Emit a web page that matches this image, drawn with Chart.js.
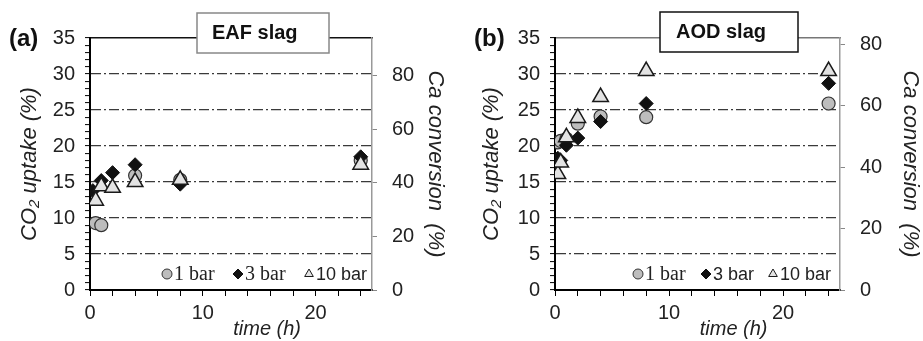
<!DOCTYPE html>
<html>
<head>
<meta charset="utf-8">
<script src="https://cdn.jsdelivr.net/npm/chart.js@4.4.0/dist/chart.umd.min.js"></script>
<style>
  body { margin: 0; background: #fff; width: 923px; height: 341px; overflow: hidden; position: relative; }
  .panel { position: absolute; top: 0; width: 461px; height: 341px; }
</style>
</head>
<body>
<div class="panel" style="left:0"><canvas id="chart-a" width="461" height="341"></canvas></div>
<div class="panel" style="left:462px"><canvas id="chart-b" width="461" height="341"></canvas></div>
<script>
// time (h) of each sample
const timesA = [0.25, 0.5, 1, 2, 4, 8, 24];
const timesB = [0.25, 0.5, 1, 2, 4, 8, 24];

// CO2 uptake (%) - EAF slag, null = not shown
const eaf1bar = [null, 9.3, 9.0, null, 15.9, 15.3, 18.0];
const eaf3bar = [13.8, null, 15.2, 16.3, 17.4, 14.7, 18.5];
const eaf10bar = [null, 12.4, 14.4, 14.2, 15.0, 15.3, 17.4];

// CO2 uptake (%) - AOD slag
const aod1bar = [20.5, 20.7, 21.0, 23.1, 24.1, 24.0, 25.9];
const aod3bar = [18.3, 18.0, 20.1, 21.1, 23.4, 25.9, 28.7];
const aod10bar = [16.1, 17.7, 21.2, 23.9, 26.8, 30.4, 30.4];

const pressures = ["1 bar", "3 bar", "10 bar"];
const uptakeTicks = [0, 5, 10, 15, 20, 25, 30, 35];
const timeTicks = [0, 10, 20];

Chart.defaults.font.family = '"Liberation Sans", Arial, sans-serif';
Chart.defaults.color = "#222";

const markers = [
  { pointStyle: "circle", radius: 6.5, bg: "#bdbdbd", border: "#333", bw: 1.2, order: 3 },
  { pointStyle: "rectRot", radius: 7, bg: "#111", border: "#111", bw: 1, order: 2 },
  { pointStyle: "triangle", radius: 9, bg: "#e3e3e3", border: "#1a1a1a", bw: 1.5, order: 1 },
];

function points(times, vals) {
  return times.map((t, i) => (vals[i] == null ? null : { x: t, y: vals[i] })).filter(Boolean);
}

const decor = {
  id: "decor",
  afterDraw(chart, args, o) {
    const ctx = chart.ctx;
    ctx.save();
    // title box
    const [bx, by, bw, bh] = o.box;
    ctx.fillStyle = "#fff";
    ctx.strokeStyle = o.boxColor;
    ctx.lineWidth = 1.5;
    ctx.fillRect(bx, by, bw, bh);
    ctx.strokeRect(bx, by, bw, bh);
    ctx.fillStyle = "#111";
    ctx.textBaseline = "middle";
    ctx.font = 'bold 20px "Liberation Sans"';
    ctx.fillText(o.title, bx + o.textDx, by + bh / 2);
    ctx.font = 'bold 24px "Liberation Sans"';
    ctx.fillText(o.letter, o.letterX, 39);
    // legend inside plot
    chart.data.datasets.forEach((ds, i) => {
      const it = o.legend[i];
      ctx.fillStyle = ds.backgroundColor;
      ctx.strokeStyle = ds.borderColor;
      ctx.lineWidth = 1;
      Chart.helpers.drawPoint(ctx, { pointStyle: ds.pointStyle, radius: 5, rotation: 0, borderWidth: 1 }, it.x, o.legendY);
      ctx.fillStyle = "#222";
      ctx.font = it.serif ? '20px "Liberation Serif"' : '18px "Liberation Sans"';
      ctx.fillText(ds.label, it.x + 7, o.legendY + 1);
    });
    ctx.restore();
  },
};

function makeChart(id, times, series, p) {
  const datasets = series.map((vals, i) => ({
    label: pressures[i],
    data: points(times, vals),
    pointStyle: markers[i].pointStyle,
    pointRadius: markers[i].radius,
    backgroundColor: markers[i].bg,
    borderColor: markers[i].border,
    borderWidth: markers[i].bw,
    order: markers[i].order,
  }));
  return new Chart(document.getElementById(id).getContext("2d"), {
    type: "scatter",
    data: { datasets },
    plugins: [decor],
    options: {
      responsive: false,
      animation: false,
      layout: { padding: { top: 38, left: 0, right: 0, bottom: 0 } },
      plugins: {
        legend: { display: false },
        tooltip: { enabled: false },
        decor: p.decor,
      },
      scales: {
        x: {
          type: "linear", position: "bottom", min: 0, max: 25,
          ticks: {
            stepSize: 2, autoSkip: false, maxRotation: 0, includeBounds: false,
            font: { size: 20 }, padding: 5,
            callback: (v) => (timeTicks.includes(v) ? v : ""),
          },
          grid: { drawOnChartArea: false, tickLength: 6, tickColor: "#000", tickWidth: 1 },
          border: { color: "#000", width: 2 },
          title: {
            display: true, text: "\u00a0".repeat(13) + "time (h)",
            font: { size: 20, style: "italic", lineHeight: 1.2 }, padding: { top: 0, bottom: 0 },
          },
          afterFit: (s) => { s.height = 51; },
        },
        xTop: {
          type: "linear", position: "top", min: 0, max: 25,
          ticks: { display: false },
          grid: { drawOnChartArea: false, drawTicks: false },
          border: { color: p.topColor, width: 1.5 },
          afterFit: (s) => { s.height = 0; },
        },
        y: {
          type: "linear", position: "left", min: 0, max: 35,
          ticks: {
            stepSize: 1, autoSkip: false, includeBounds: false, maxTicksLimit: 100,
            font: { size: 20 }, padding: 10,
            callback: (v) => (uptakeTicks.includes(v) ? v : ""),
          },
          grid: {
            color: (c) => (c.tick && c.tick.value % 5 === 0 && c.tick.value > 0 && c.tick.value < 35 ? "#3a3a3a" : "rgba(0,0,0,0)"),
            lineWidth: 1.2, tickColor: "#000", tickLength: 5, tickWidth: 1, tickBorderDash: [],
          },
          border: { color: "#000", width: 2, dash: [10, 3, 2, 3] },
          title: {
            display: true, text: "CO\u2082 uptake (%)",
            font: { size: 22, style: "italic", lineHeight: 1.2 }, padding: { top: 17, bottom: 0 },
          },
          afterFit: (s) => { s.width = p.leftW; },
        },
        y2: {
          type: "linear", position: "right", min: 0, max: p.rightMax,
          ticks: { stepSize: 20, includeBounds: false, font: { size: 20 }, padding: 15 },
          grid: { drawOnChartArea: false, tickColor: "#888", tickLength: 5, tickWidth: 1 },
          border: { color: "#999", width: 1.5 },
          title: {
            display: true, text: "Ca conversion  (%)",
            font: { size: 22, style: "italic", lineHeight: 1.2 }, padding: { top: p.rightPad, bottom: 0 },
          },
          afterFit: (s) => { s.width = p.rightW; },
        },
      },
    },
  });
}

makeChart("chart-a", timesA, [eaf1bar, eaf3bar, eaf10bar], {
  leftW: 90, rightW: 89, rightMax: 94, rightPad: 13, topColor: "#111",
  decor: {
    title: "EAF slag", box: [197, 13, 132, 40], boxColor: "#888", textDx: 15,
    letter: "(a)", letterX: 9, legendY: 274,
    legend: [{ x: 167, serif: true }, { x: 238, serif: true }, { x: 309, serif: false }],
  },
});

makeChart("chart-b", timesB, [aod1bar, aod3bar, aod10bar], {
  leftW: 93, rightW: 83, rightMax: 82, rightPad: 0, topColor: "#777",
  decor: {
    title: "AOD slag", box: [198, 12, 138, 40], boxColor: "#111", textDx: 16,
    letter: "(b)", letterX: 12, legendY: 274,
    legend: [{ x: 176, serif: true }, { x: 244, serif: false }, { x: 311, serif: false }],
  },
});
</script>
</body>
</html>
